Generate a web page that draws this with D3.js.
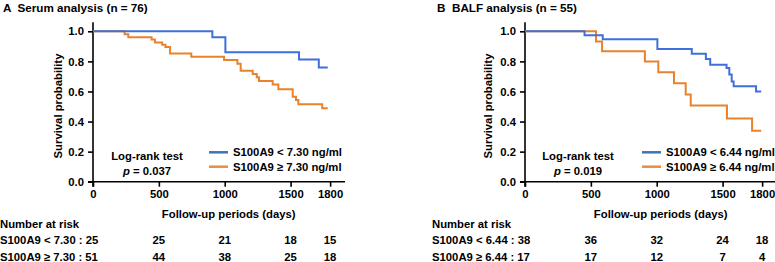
<!DOCTYPE html>
<html><head><meta charset="utf-8">
<script src="https://cdn.jsdelivr.net/npm/d3@7"></script>
<style>
body{margin:0;background:#fff;}
text{font-family:"Liberation Sans",Arial,sans-serif;font-weight:bold;font-size:11.3px;fill:#000;}
</style></head><body>
<svg id="c" width="775" height="262"></svg>
<script>
// ---- data ----
const xTicks = [0, 500, 1000, 1500, 1800];
const yTicks = [0, 0.2, 0.4, 0.6, 0.8, 1.0];
const riskTimes = [500, 1000, 1500, 1800];

// Panel A: Serum
const aLowT = [0, 906, 1005, 1564, 1714, 1782];
const aLowS = [1, 0.96, 0.86, 0.813, 0.76, 0.76];
const aHighT = [0, 240, 268, 445, 470, 525, 550, 585, 746, 995, 1096, 1121, 1212, 1243, 1260, 1364, 1407, 1516, 1541, 1559, 1740, 1782];
const aHighS = [1, 0.98, 0.96, 0.945, 0.925, 0.91, 0.895, 0.853, 0.831, 0.81, 0.785, 0.738, 0.716, 0.694, 0.67, 0.647, 0.614, 0.565, 0.543, 0.515, 0.488, 0.488];
const aRiskLow = [25, 21, 18, 15];
const aRiskHigh = [44, 38, 25, 18];

// Panel B: BALF
const bLowT = [0, 452, 590, 1005, 1266, 1373, 1406, 1530, 1551, 1569, 1584, 1754, 1793];
const bLowS = [1, 0.974, 0.947, 0.883, 0.85, 0.816, 0.778, 0.756, 0.712, 0.667, 0.634, 0.60, 0.60];
const bHighT = [0, 539, 585, 910, 1012, 1131, 1220, 1258, 1533, 1724, 1793];
const bHighS = [1, 0.933, 0.867, 0.80, 0.728, 0.655, 0.579, 0.506, 0.421, 0.339, 0.339];
const bRiskLow = [36, 32, 24, 18];
const bRiskHigh = [17, 12, 7, 4];

const panels = [
  {title:"A  Serum analysis (n = 76)", titleX:3, x0:93, yLabX:62, lowT:aLowT, lowS:aLowS, highT:aHighT, highS:aHighS,
   legLow:"S100A9 < 7.30 ng/ml", legHigh:"S100A9 \u2265 7.30 ng/ml", legX:209, p:"0.037", lrX:147,
   rowLabX:0, rowLow:"S100A9 < 7.30 : 25", rowHigh:"S100A9 \u2265 7.30 : 51", riskLow:aRiskLow, riskHigh:aRiskHigh},
  {title:"B  BALF analysis (n = 55)", titleX:437, x0:525, yLabX:492, lowT:bLowT, lowS:bLowS, highT:bHighT, highS:bHighS,
   legLow:"S100A9 < 6.44 ng/ml", legHigh:"S100A9 \u2265 6.44 ng/ml", legX:642, p:"0.019", lrX:578,
   rowLabX:432, rowLow:"S100A9 < 6.44 : 38", rowHigh:"S100A9 \u2265 6.44 : 17", riskLow:bRiskLow, riskHigh:bRiskHigh}
];

const blueC = "#3f6fdc", orangeC = "#e9822c";
const blueL = "#3b74bd", orangeL = "#ee8c3e";
const svg = d3.select("#c");

panels.forEach(P => {
  const x = d3.scaleLinear().domain([0, 1913]).range([P.x0, P.x0 + 252]);
  const y = d3.scaleLinear().domain([0, 1]).range([181.7, 31.3]);
  const g = svg.append("g");

  // axes
  g.append("line").attr("x1", x(0)).attr("x2", x(0)).attr("y1", y(0)+5).attr("y2", y(1.06))
    .attr("stroke","#000").attr("stroke-width",1.6);
  g.append("line").attr("x1", x(0)-5).attr("x2", x(1913)).attr("y1", y(0)).attr("y2", y(0))
    .attr("stroke","#000").attr("stroke-width",1.6);
  const yAx = g.append("g").attr("transform",`translate(${x(0)},0)`)
    .call(d3.axisLeft(y).tickValues(yTicks).tickFormat(d3.format(".1f")).tickSize(5).tickPadding(4));
  const xAx = g.append("g").attr("transform",`translate(0,${y(0)})`)
    .call(d3.axisBottom(x).tickValues(xTicks).tickFormat(d3.format("d")).tickSize(5).tickPadding(3));
  [yAx, xAx].forEach(a => {
    a.select(".domain").remove();
    a.selectAll(".tick line").attr("stroke","#000").attr("stroke-width",1.6);
    a.attr("font-size",null).attr("font-family",null);
  });

  // labels
  g.append("text").attr("transform",`translate(${P.yLabX},106) rotate(-90)`).attr("text-anchor","middle")
    .text("Survival probability");
  g.append("text").attr("x", x(1030)).attr("y", 218).attr("text-anchor","middle").text("Follow-up periods (days)");
  g.append("text").attr("x", P.titleX).attr("y", 12).attr("xml:space","preserve").style("font-size","11.7px").text(P.title);

  // curves
  const line = d3.line().x(d => x(d[0])).y(d => y(d[1])).curve(d3.curveStepAfter);
  const mk = (T,S) => T.map((t,i)=>[t,S[i]]);
  g.append("path").attr("d", line(mk(P.highT,P.highS))).attr("fill","none").attr("stroke",orangeC).attr("stroke-width",2);
  g.append("path").attr("d", line(mk(P.lowT,P.lowS))).attr("fill","none").attr("stroke",blueC).attr("stroke-width",2);

  // legend
  [[P.legLow, blueL, 152.3],[P.legHigh, orangeL, 166.7]].forEach(([t,c,yy]) => {
    g.append("line").attr("x1",P.legX).attr("x2",P.legX+19).attr("y1",yy).attr("y2",yy).attr("stroke",c).attr("stroke-width",2.5);
    g.append("text").attr("x",P.legX+24).attr("y",yy+4).text(t);
  });

  // log-rank
  g.append("text").attr("x",P.lrX).attr("y",160).attr("text-anchor","middle").text("Log-rank test");
  const pt = g.append("text").attr("x",P.lrX).attr("y",174.5).attr("text-anchor","middle");
  pt.append("tspan").attr("font-style","italic").text("p");
  pt.append("tspan").text(" = " + P.p);

  // risk table
  g.append("text").attr("x",P.rowLabX).attr("y",228).text("Number at risk");
  g.append("text").attr("x",P.rowLabX).attr("y",244.3).text(P.rowLow);
  g.append("text").attr("x",P.rowLabX).attr("y",260.5).text(P.rowHigh);
  riskTimes.forEach((t,i) => {
    g.append("text").attr("x",x(t)).attr("y",244.3).attr("text-anchor","middle").text(P.riskLow[i]);
    g.append("text").attr("x",x(t)).attr("y",260.5).attr("text-anchor","middle").text(P.riskHigh[i]);
  });
});
</script></body></html>
